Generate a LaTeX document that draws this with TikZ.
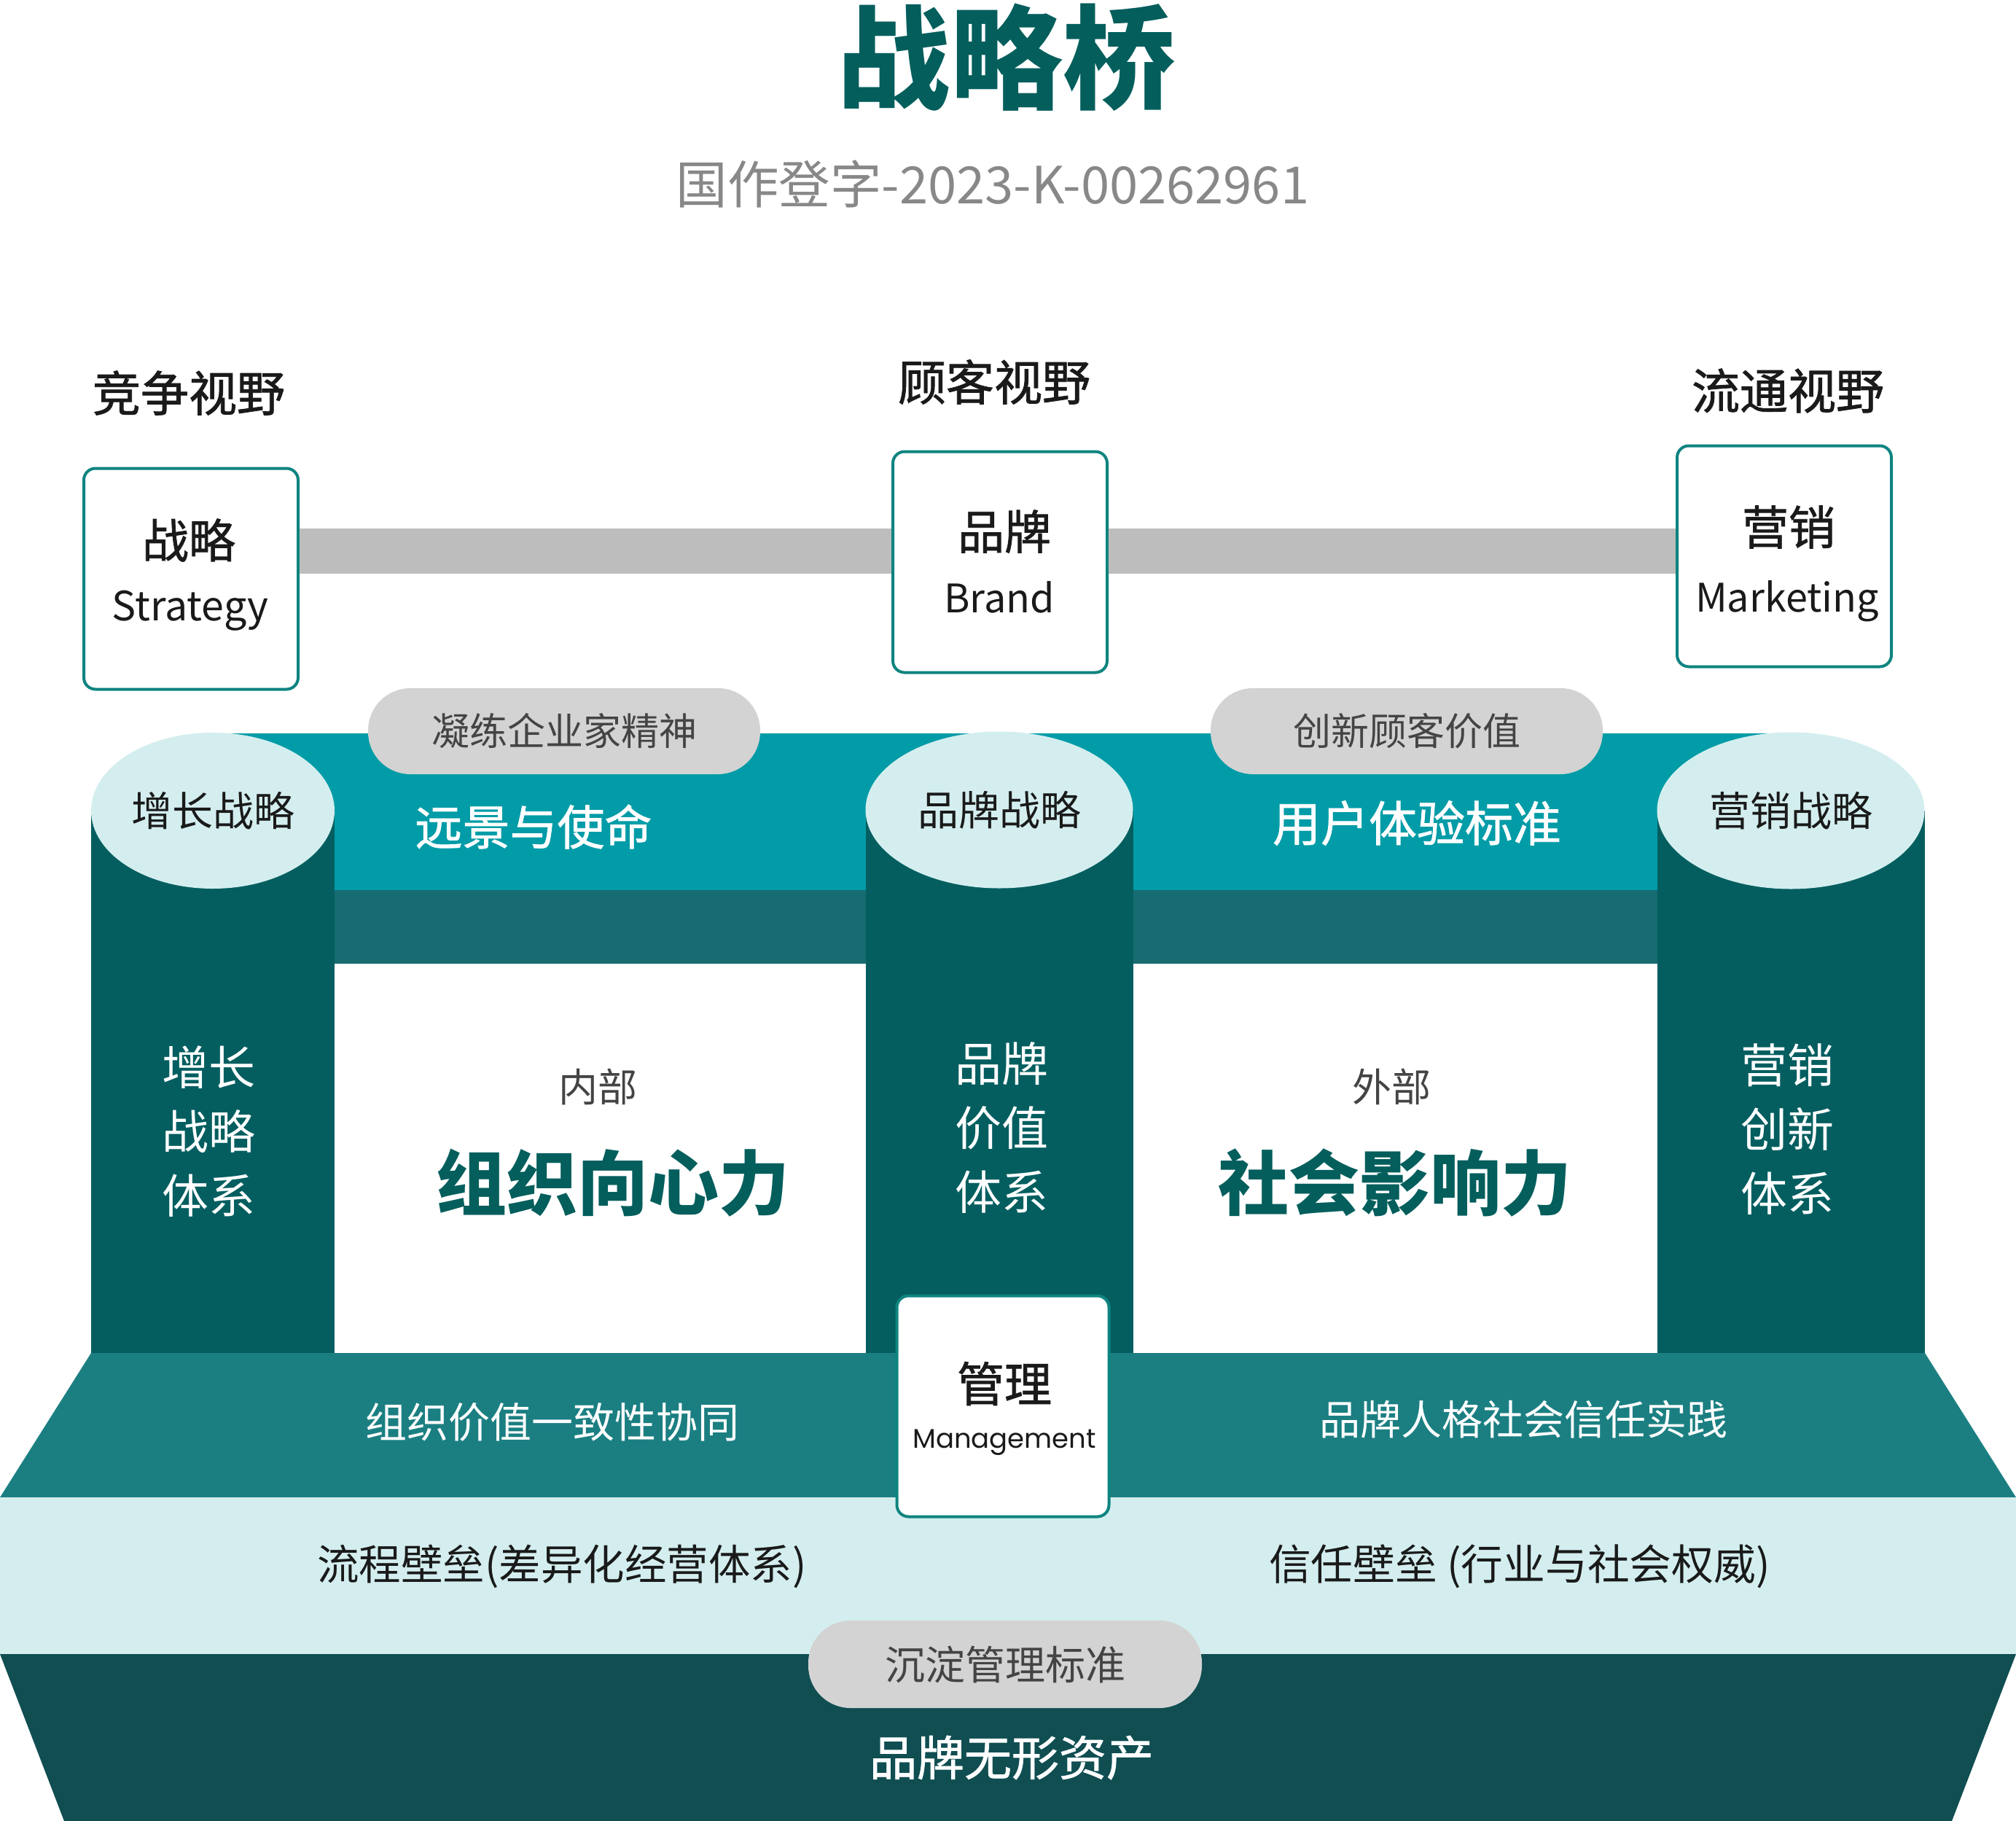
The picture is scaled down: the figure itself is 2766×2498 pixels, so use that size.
\documentclass[tikz,border=0pt]{standalone}
\usepackage{fontspec}
\setmainfont{Noto Sans CJK SC}
\newfontfamily\medf[FakeBold=1.2]{Noto Sans CJK SC}
\newfontfamily\pop{Poppins}
\usetikzlibrary{shapes.geometric}
\definecolor{titleC}{HTML}{035E5C}
\definecolor{subC}{HTML}{888888}
\definecolor{boxC}{HTML}{0E8480}
\definecolor{barC}{HTML}{BDBDBD}
\definecolor{bandC}{HTML}{019CA7}
\definecolor{stripC}{HTML}{176C72}
\definecolor{colC}{HTML}{045E60}
\definecolor{circC}{HTML}{D4EEEF}
\definecolor{trapC}{HTML}{1B7F82}
\definecolor{botC}{HTML}{104E52}
\definecolor{pillC}{HTML}{D3D3D3}
\definecolor{pillT}{HTML}{444444}
\definecolor{txtC}{HTML}{1A1A1A}
\tikzset{
  box/.style={draw=boxC, line width=4pt, rounded corners=16pt, fill=white, minimum width=294pt, minimum height=303pt, inner sep=0pt},
  pill/.style={fill=pillC, rounded corners=58pt, minimum width=538pt, minimum height=118pt, inner sep=0pt, text=pillT, font=\fontsize{52}{60}\selectfont},
  circ/.style={ellipse, fill=circC, inner sep=0pt, text=txtC, font=\fontsize{56}{64}\selectfont},
  lbl/.style={inner sep=0pt, align=center},
  barline/.style={draw=barC, line width=62pt},
}
\begin{document}
\begin{tikzpicture}[x=1pt,y=-1pt]
\useasboundingbox[fill=white] (0,0) rectangle (2766,2498);
% title
\node[lbl, text=titleC, font=\fontsize{155}{160}\selectfont\bfseries] (title) at (1381,79) {战略桥};
\node[lbl, text=subC, font=\fontsize{70.5}{74}\selectfont] (sub) at (1362,252) {国作登字-2023-K-00262961};
% vision labels
\node[lbl, text=txtC, font=\fontsize{66}{70}\selectfont\medf] (v1) at (259,539) {竞争视野};
\node[lbl, text=txtC, font=\fontsize{66}{70}\selectfont\medf] (v2) at (1364,524) {顾客视野};
\node[lbl, text=txtC, font=\fontsize{66}{70}\selectfont\medf] (v3) at (2453,536) {流通视野};
% boxes
\node[box] (strat) at (262,794) {};
\node[box] (brand) at (1372,771) {};
\node[box] (mkt) at (2448,763) {};
\draw[barline] (strat.east |- 0,756) -- (brand.west |- 0,756);
\draw[barline] (brand.east |- 0,756) -- (mkt.west |- 0,756);
\node[lbl, text=txtC, font=\fontsize{64}{70}\selectfont\medf] (t1) at (259,741) {战略};
\node[lbl, text=txtC, font=\fontsize{55.5}{60}\selectfont] (t1e) at (261,838) {Strategy};
\node[lbl, text=txtC, font=\fontsize{64}{70}\selectfont\medf] (t2) at (1378,729) {品牌};
\node[lbl, text=txtC, font=\fontsize{54}{60}\selectfont] (t2e) at (1371,819) {Brand};
\node[lbl, text=txtC, font=\fontsize{64}{70}\selectfont\medf] (t3) at (2454,723) {营销};
\node[lbl, text=txtC, font=\fontsize{54}{60}\selectfont] (t3e) at (2452,825) {Marketing};
% top band
\fill[bandC] (292,1006) rectangle (2457,1221);
\fill[stripC] (292,1221) rectangle (2457,1322);
% columns
\fill[colC] (125,1112) rectangle (459,1860);
\fill[colC] (1188,1112) rectangle (1555,1860);
\fill[colC] (2274,1112) rectangle (2641,1860);
\node[circ, minimum width=334pt, minimum height=214pt] (c1) at (292,1112) {增长战略\hspace{12pt}};
\node[circ, minimum width=367pt, minimum height=215pt] (c2) at (1371,1111) {品牌战略\hspace{8pt}};
\node[circ, minimum width=367pt, minimum height=215pt] (c3) at (2457,1112) {营销战略\hspace{4pt}};
% pills on band
\node[pill] (p1) at (774,1003) {凝练企业家精神};
\node[pill] (p2) at (1930,1003) {创新顾客价值};
\node[lbl, text=white, font=\fontsize{65}{70}\selectfont\medf] (b1) at (732,1134) {远景与使命};
\node[lbl, text=white, font=\fontsize{66}{70}\selectfont\medf] (b2) at (1944,1129) {用户体验标准};
% column texts
\node[lbl, text=white, font=\fontsize{64}{88}\selectfont] (k1) at (286,1552) {增长\\战略\\体系};
\node[lbl, text=white, font=\fontsize{64}{88}\selectfont] (k2) at (1374,1547) {品牌\\价值\\体系};
\node[lbl, text=white, font=\fontsize{64}{88}\selectfont] (k3) at (2452,1549) {营销\\创新\\体系};
% panes
\node[lbl, text=pillT, font=\fontsize{54}{60}\selectfont] (n1) at (820,1491) {内部};
\node[lbl, text=titleC, font=\fontsize{97}{100}\selectfont\bfseries] (n2) at (841,1623) {组织向心力};
\node[lbl, text=pillT, font=\fontsize{54}{60}\selectfont] (w1) at (1909,1491) {外部};
\node[lbl, text=titleC, font=\fontsize{97}{100}\selectfont\bfseries] (w2) at (1914,1623) {社会影响力};
% base
\fill[trapC] (125,1856) -- (2641,1856) -- (2766,2054) -- (0,2054) -- cycle;
\fill[circC] (0,2054) rectangle (2766,2269);
\fill[botC] (0,2269) -- (2766,2269) -- (2678,2498) -- (88,2498) -- cycle;
\node[lbl, text=white, font=\fontsize{57}{60}\selectfont] (f1) at (758,1951) {组织价值一致性协同};
\node[lbl, text=white, font=\fontsize{56}{60}\selectfont] (f2) at (2090,1947) {品牌人格社会信任实践};
\node[lbl, text=txtC, font=\fontsize{57.5}{60}\selectfont] (g1) at (771,2149) {流程壁垒(差异化经营体系)};
\node[lbl, text=txtC, font=\fontsize{57.8}{60}\selectfont] (g2) at (2085,2149) {信任壁垒 (行业与社会权威)};
\node[box, minimum width=291pt, minimum height=303pt] (mgmt) at (1376,1929) {};
\node[lbl, text=txtC, font=\fontsize{65}{70}\selectfont\medf] (m1) at (1378,1898) {管理};
\node[lbl, text=txtC, font=\fontsize{37}{44}\selectfont\pop] (m2) at (1378,1979) {Management};
\node[pill, minimum width=540pt, minimum height=120pt, font=\fontsize{55}{60}\selectfont] (p3) at (1379,2283) {沉淀管理标准};
\node[lbl, text=white, font=\fontsize{65}{70}\selectfont\medf] (h1) at (1388,2411) {品牌无形资产};
\end{tikzpicture}
\end{document}
